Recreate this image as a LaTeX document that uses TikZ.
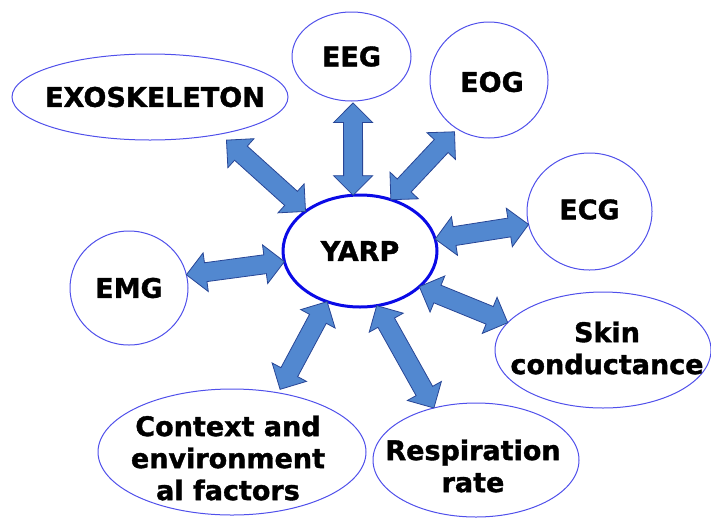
\documentclass[tikz,border=0pt]{standalone}
\usepackage{fontspec}
\newfontfamily\lblfont{DejaVu Sans}[BoldFeatures={FakeBold=1.3}]
\usetikzlibrary{calc,shapes.geometric}

\definecolor{ringblue}{RGB}{80,80,235}
\definecolor{hubblue}{RGB}{10,10,230}
\definecolor{arrowfill}{RGB}{82,136,208}
\definecolor{arrowline}{RGB}{40,70,150}

\tikzset{
  topic/.style={ellipse, draw=ringblue, line width=1pt, fill=white,
                inner sep=0pt, outer sep=0pt},
  hub/.style={topic, draw=hubblue, line width=3pt},
  lbl/.style={font=\lblfont\bfseries\fontsize{27}{32}\selectfont,
              align=center, inner sep=0pt, text=black},
  arrowbody/.style={fill=arrowfill, draw=arrowline, line width=0.8pt,
                    line join=miter},
}

% block arrow with a head at each end
\newcommand\shaftw{9.5pt}
\newcommand\headw{19.5pt}
\newcommand\headl{19.5pt}
% #1 from, #2 to, #3 gap at the start, #4 gap at the end
\newcommand\blockarrow[4]{%
  \coordinate (ba-a) at ($(#1)!#3!(#2)$);
  \coordinate (ba-b) at ($(#2)!#4!(#1)$);
  \draw[arrowbody]
    (ba-a)
    -- ($(ba-a)!\headl!(ba-b)!\headw!90:(ba-b)$)
    -- ($(ba-a)!\headl!(ba-b)!\shaftw!90:(ba-b)$)
    -- ($(ba-b)!\headl!(ba-a)!\shaftw!-90:(ba-a)$)
    -- ($(ba-b)!\headl!(ba-a)!\headw!-90:(ba-a)$)
    -- (ba-b)
    -- ($(ba-b)!\headl!(ba-a)!\headw!90:(ba-a)$)
    -- ($(ba-b)!\headl!(ba-a)!\shaftw!90:(ba-a)$)
    -- ($(ba-a)!\headl!(ba-b)!\shaftw!-90:(ba-b)$)
    -- ($(ba-a)!\headl!(ba-b)!\headw!-90:(ba-b)$)
    -- cycle;
}

\begin{document}
\begin{tikzpicture}[x=1pt, y=-1pt]
  \useasboundingbox (0,0) rectangle (711,517);

  % surrounding topics
  \node[topic, minimum width=276pt, minimum height=86pt,
        label={[lbl, xshift=5pt]center:EXOSKELETON}] (exo) at (150,97) {};
  \node[topic, minimum width=119pt, minimum height=89pt,
        label={[lbl]center:EEG}] (eeg) at (351.5,56.5) {};
  \node[topic, minimum width=118pt, minimum height=116pt,
        label={[lbl, xshift=3pt, yshift=-2pt]center:EOG}] (eog) at (489,80) {};
  \node[topic, minimum width=125pt, minimum height=117pt,
        label={[lbl, yshift=2pt]center:ECG}] (ecg) at (589.5,211.5) {};
  \node[topic, minimum width=118pt, minimum height=114pt,
        label={[lbl]center:EMG}] (emg) at (129,288) {};
  \node[topic, minimum width=216pt, minimum height=116pt,
        label={[lbl, xshift=4pt, yshift=2pt]center:{Skin\\conductance}}] (skin) at (603,350) {};
  \node[topic, minimum width=268pt, minimum height=126pt,
        label={[lbl, xshift=-4pt, yshift=-6pt]center:{Context and\\environment\\al factors}}] (ctx) at (232,452) {};
  \node[topic, minimum width=206pt, minimum height=114pt,
        label={[lbl, xshift=-3pt, yshift=-6pt]center:{Respiration\\rate}}] (resp) at (476,460) {};

  % central hub
  \node[hub, minimum width=154pt, minimum height=112pt,
        label={[lbl]center:YARP}] (yarp) at (360,251) {};

  % two-way links to the hub
  \blockarrow{exo.-28}{yarp.144}{9pt}{0pt}
  \blockarrow{eeg.-88}{yarp.97}{2pt}{0pt}
  \blockarrow{eog.-123}{yarp.59.5}{4pt}{0pt}
  \blockarrow{ecg.192.4}{yarp.9.7}{0pt}{0pt}
  \blockarrow{emg.13.8}{yarp.188}{0pt}{0pt}
  \blockarrow{skin.164.8}{yarp.-31.7}{0pt}{0pt}
  \blockarrow{resp.129}{yarp.-73}{0pt}{0pt}
  \blockarrow{ctx.52.7}{yarp.-123}{4pt}{0pt}
\end{tikzpicture}
\end{document}
